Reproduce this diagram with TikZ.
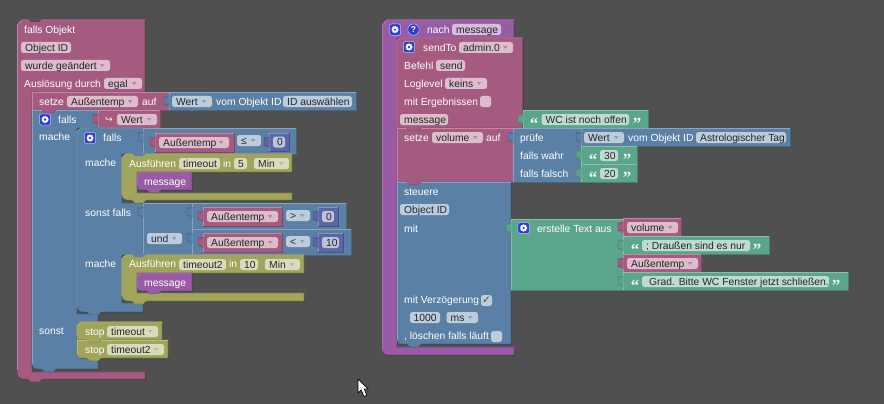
\documentclass[tikz,border=0pt]{standalone}
\usepackage{fontspec}
\setmainfont{Liberation Sans}
\newfontfamily\djv{DejaVu Sans}
\newfontfamily\qf{Liberation Serif}
\usetikzlibrary{shadows}
\definecolor{bgc}{HTML}{505050}
\definecolor{cM}{HTML}{A55B80}
\definecolor{cB}{HTML}{5B80A5}
\definecolor{cO}{HTML}{A0A55B}
\definecolor{cG}{HTML}{5BA58C}
\definecolor{cP}{HTML}{995BA5}
\definecolor{cN}{HTML}{5B67A5}
\definecolor{iconb}{HTML}{2E3FD0}
\newcounter{nn}
\tikzset{
  x=1pt,y=-1pt,
  blk/.style={fill=#1,draw=#1!78!black,line width=.6pt,general shadow={shadow xshift=.8pt,shadow yshift=-1.2pt,fill=black,opacity=.28}},
  hi/.style={draw=#1!72!white,line width=.6pt},
  lbl/.style={anchor=base west,inner sep=0pt,text=white,font=\fontsize{10.3}{12}\selectfont},
  ftx/.style={anchor=base west,inner sep=0pt,text=black!85,font=\fontsize{10.3}{12}\selectfont},
  fld/.style={fill=#1!40!white,rounded corners=2.5pt},
  ddt/.style={fill=#1!75!white},
  qm/.style={inner sep=0pt,text=white!92!#1,font=\qf\bfseries\fontsize{17}{17}\selectfont},
}
\newcommand\tx[3]{\stepcounter{nn}\node[lbl] (t\arabic{nn}) at (#1,#2+3.7) {#3};}
\newcommand\fl[5]{\fill[fld=#1] (#2,#4) rectangle (#3,#4+11);\stepcounter{nn}\node[ftx] (t\arabic{nn}) at (#2+4,#4+9.2) {#5};}
\newcommand\dd[5]{\fl{#1}{#2}{#3}{#4}{#5}\fill[ddt=#1] (#3-10,#4+4.2)--(#3-5.6,#4+4.2)--(#3-7.8,#4+7)--cycle;}
\newcommand\rb[5]{\draw[blk=#1] (#2,#3) rectangle (#4,#5);\draw[hi=#1] (#2,#5)--(#2,#3)--(#4,#3);}
\newcommand\tabb[3]{\draw[fill=#1,draw=#1!78!black,line width=.5pt] (#2+.5,#3+4)--(#2-2,#3+4)--(#2-2,#3+5.5)--(#2-5,#3+4.5)--(#2-5,#3+13)--(#2-2,#3+12)--(#2-2,#3+14)--(#2+.5,#3+14);}
\newcommand\vb[5]{\rb{#1}{#2}{#3}{#4}{#5}\tabb{#1}{#2}{#3}}
\newcommand\notch[3]{\draw[fill=#1,draw=#1!78!black,line width=.4pt] (#2+10,#3)--(#2+13,#3+2.8)--(#2+21,#3+2.8)--(#2+24,#3);\fill[#1] (#2+9,#3-.8) rectangle (#2+25,#3+.3);}
\newcommand\gear[2]{\fill[fill=iconb,rounded corners=2.5pt,draw=white!70!iconb,line width=.5pt] (#1-5.7,#2-5.7) rectangle (#1+5.7,#2+5.7);
  \draw[white,line width=1.2pt,dash pattern=on 1.2pt off .7pt] (#1,#2) circle (3pt);\fill[white] (#1,#2) circle (3pt);\fill[iconb] (#1,#2) circle (1.3pt);}
\newcommand\qo[3]{\stepcounter{nn}\node[qm=#1] (t\arabic{nn}) at (#2,#3+9.5) {“};}
\newcommand\qc[3]{\stepcounter{nn}\node[qm=#1] (t\arabic{nn}) at (#2,#3+9.5) {”};}
\newcommand\msg[2]{\draw[blk=cP] (#2,#1+18) [rounded corners=3.5pt] -- (137,#1+18) -- (137,#1) [sharp corners] -- (#2,#1) -- cycle;\draw[hi=cP] (137,#1+14)--(137,#1+3)--(140,#1)--(#2,#1);\notch{cP}{137}{#1+18}\tx{144}{#1+9.7}{message}}
\begin{document}
\begin{tikzpicture}
\useasboundingbox (0,0) rectangle (884,404);
\fill[bgc] (0,0) rectangle (884,404);
% ---------- root
\draw[blk=cM] (145,379) [rounded corners=5pt] -- (17.5,379) -- (17.5,20) [sharp corners] -- (145,20) -- (145,92) -- (32,92) -- (32,372) -- (145,372) -- cycle;
\draw[hi=cM] (17.5,370)--(17.5,25)--(22,20)--(145,20);
\fill[bgc] (28,19.4)--(31,22)--(39,22)--(42,19.4)--cycle;
\notch{cM}{18}{379}
\tx{24}{29.7}{falls Objekt}
\fl{cM}{21}{71}{42}{Object ID}
\dd{cM}{21}{110}{60}{wurde geändert}
\tx{24}{83.7}{Auslösung durch}
\dd{cM}{104}{142}{78}{egal}
% ---------- setze Aussentemp
\rb{cM}{32}{92}{169}{110}
\tx{39}{101.5}{setze}
\dd{cM}{67}{138}{96}{Außentemp}
\tx{142}{101.5}{auf}
\vb{cB}{169}{92}{356}{110}
\dd{cB}{172}{212}{96}{Wert}
\tx{216}{101.5}{vom Objekt ID}
\fl{cB}{283}{352}{96}{ID auswählen}
% ---------- outer falls
\draw[blk=cB] (98,110)--(98,128)--(77,128)--(77,314)--(98,314)--(98,369) [rounded corners=5pt] -- (32,369) -- (32,110) [sharp corners] -- cycle;
\draw[hi=cB] (32,364)--(32,110)--(98,110);
\notch{cM}{32}{110}
\gear{45}{119.5}
\tx{58}{119.5}{falls}
\tx{39}{137}{mache}
\tx{39}{330.7}{sonst}
\vb{cM}{98}{110}{160}{128}
\stepcounter{nn}\node[lbl,font=\djv\fontsize{9}{11}\selectfont] (t\arabic{nn}) at (105,122.5) {↪};
\dd{cM}{117}{157}{114}{Wert}
% ---------- inner falls
\draw[blk=cB] (143,128)--(143,154)--(122,154)--(122,203)--(143,203)--(143,255)--(122,255)--(122,303)--(143,303)--(143,312) [rounded corners=5pt] -- (77,312) -- (77,128) [sharp corners] -- cycle;
\draw[hi=cB] (77,307)--(77,132)--(81,128)--(143,128);
\fill[cB] (87,127.3)--(90,130)--(98,130)--(101,127.3)--cycle;
\gear{90}{138}
\tx{103}{138}{falls}
\tx{85}{163}{mache}
\tx{85}{212.7}{sonst falls}
\tx{85}{263.7}{mache}
% compare 1
\vb{cB}{143}{128}{296}{154}
\vb{cM}{155}{133}{234}{152}
\dd{cM}{159}{229}{137}{Außentemp}
\dd{cB}{237}{261}{135}{≤}
\vb{cN}{269}{133}{289}{151}
\fl{cN}{273}{285}{136.5}{0}
% Ausfuehren 1
\draw[blk=cO] (292,154)--(292,172)--(137,172)--(137,193)--(292,193)--(292,200) [rounded corners=5pt] -- (122,200) -- (122,154) [sharp corners] -- cycle;
\draw[hi=cO] (122,195)--(122,158)--(126,154)--(292,154);
\notch{cO}{122}{200}
\fill[cB] (132,153.4)--(135,156)--(143,156)--(146,153.4)--cycle;
\tx{129}{163.5}{Ausführen}
\fl{cO}{179}{220}{158}{timeout}
\tx{223}{163.5}{in}
\fl{cO}{234}{247}{158}{5}
\dd{cO}{254}{289}{158}{Min}
\msg{172}{192}
% und
\vb{cB}{143}{203}{192}{255}
\dd{cB}{147}{182}{233}{und}
\vb{cB}{192}{203}{346}{229}
\vb{cM}{203}{207}{282}{226}
\dd{cM}{207}{278}{211}{Außentemp}
\dd{cB}{286}{310}{210}{>}
\vb{cN}{318}{207}{338}{226}
\fl{cN}{322}{334}{211}{0}
\vb{cB}{192}{229}{351}{255}
\vb{cM}{203}{233}{282}{252}
\dd{cM}{207}{278}{237}{Außentemp}
\dd{cB}{286}{310}{236}{<}
\vb{cN}{318}{233}{343}{252}
\fl{cN}{322}{339}{237}{10}
% Ausfuehren 2
\draw[blk=cO] (304,255)--(304,273)--(137,273)--(137,293)--(304,293)--(304,301) [rounded corners=5pt] -- (122,301) -- (122,255) [sharp corners] -- cycle;
\draw[hi=cO] (122,296)--(122,259)--(126,255)--(304,255);
\notch{cO}{122}{301}
\fill[cB] (132,254.4)--(135,257)--(143,257)--(146,254.4)--cycle;
\tx{129}{264}{Ausführen}
\fl{cO}{179}{226}{259}{timeout2}
\tx{229}{264}{in}
\fl{cO}{240}{258}{259}{10}
\dd{cO}{265}{300}{259}{Min}
\msg{273}{192}
\notch{cB}{77}{312}
\notch{cB}{32}{369}
% stops
\draw[blk=cO] (162,322)--(162,340)--(77,340) [rounded corners=4pt] -- (77,322) [sharp corners] -- cycle;
\draw[hi=cO] (77,336)--(77,326)--(81,322)--(162,322);
\tx{85}{332}{stop}
\dd{cO}{107}{158}{326}{timeout}
\draw[blk=cO] (168,340)--(168,358) [rounded corners=4pt] -- (77,358) -- (77,340) [sharp corners] -- cycle;
\draw[hi=cO] (77,354)--(77,340)--(168,340);
\notch{cO}{77}{340}
\notch{cO}{77}{358}
\tx{85}{350}{stop}
\dd{cO}{107}{164}{344}{timeout2}
% ---------- function block
\draw[blk=cP] (514,355) [rounded corners=5pt] -- (382.3,355) -- (382.3,20) [sharp corners] -- (514,20) -- (514,38) -- (397,38) -- (397,347) -- (514,347) -- cycle;
\draw[hi=cP] (382.3,350)--(382.3,25)--(387,20)--(514,20);
\gear{395}{29.6}
\fill[iconb,draw=white!70!iconb,line width=.5pt] (413.5,29.6) circle (5.7pt);
\stepcounter{nn}\node[anchor=center,inner sep=0pt,text=white,font=\bfseries\fontsize{8.5}{10}\selectfont] (t\arabic{nn}) at (413.5,29.6) {?};
\tx{427}{29.6}{nach}
\fl{cP}{452}{501}{24}{message}
% sendTo
\draw[blk=cM] (522.7,38)--(522.7,128) -- (397,128) [rounded corners=3pt] -- (397,38) [sharp corners] -- cycle;
\draw[hi=cM] (397,128)--(397,41)--(400,38)--(522.7,38);
\gear{409}{47}
\tx{423}{47.5}{sendTo}
\dd{cM}{459}{513}{42}{admin.0}
\tx{404}{65.5}{Befehl}
\fl{cM}{436}{465}{60}{send}
\tx{404}{84}{Loglevel}
\dd{cM}{445}{487}{78}{keins}
\tx{404}{102}{mit Ergebnissen}
\fill[fld=cM] (480,96) rectangle (491,107);
\fl{cM}{400}{448}{114}{message}
\vb{cG}{523}{110}{648}{128}
\qo{cG}{534}{114}
\fl{cG}{541.5}{629}{114}{WC ist noch offen}
\qc{cG}{637}{114}
% setze volume
\rb{cM}{397}{128}{513}{182}
\notch{cM}{397}{128}
\fill[cM] (405,127.3) rectangle (423,128.3);
\tx{404}{138}{setze}
\dd{cM}{432}{483}{132}{volume}
\tx{486}{138}{auf}
\vb{cB}{513}{128}{581}{182}
\tx{520}{138}{prüfe}
\tx{520}{156}{falls wahr}
\tx{520}{174}{falls falsch}
\vb{cB}{581}{128}{790}{146}
\dd{cB}{584}{624}{132}{Wert}
\tx{628}{138}{vom Objekt ID}
\fl{cB}{696}{786}{132}{Astrologischer Tag}
\vb{cG}{581}{146}{637}{164}
\qo{cG}{593}{150}
\fl{cG}{600}{618}{150}{30}
\qc{cG}{627}{150}
\vb{cG}{581}{164}{637}{182}
\qo{cG}{593}{168}
\fl{cG}{600}{618}{168}{20}
\qc{cG}{627}{168}
% steuere
\draw[blk=cB] (511,182)--(511,344) [rounded corners=4pt] -- (397,344) -- (397,182) [sharp corners] -- cycle;
\draw[hi=cB] (397,340)--(397,182)--(511,182);
\notch{cM}{397}{182}
\notch{cB}{397}{344}
\tx{404}{192}{steuere}
\fl{cB}{400}{449}{204}{Object ID}
\tx{404}{228.5}{mit}
\tx{404}{300}{mit Verzögerung}
\fill[fld=cB] (481,295) rectangle (492,306);
\stepcounter{nn}\node[anchor=center,inner sep=0pt,text=black!70,font=\djv\fontsize{10.5}{11}\selectfont] (t\arabic{nn}) at (486.5,300.5) {✓};
\fl{cB}{410}{440}{312}{\hspace{-.5pt}1000}
\dd{cB}{446.5}{478}{312}{ms}
\tx{404}{336}{, löschen falls läuft}
\fill[fld=cB] (491,331) rectangle (502,342);
% text join
\vb{cG}{511}{219}{623}{290}
\gear{523.6}{228}
\tx{537}{228.5}{erstelle Text aus}
\vb{cM}{623}{218}{681}{236}
\dd{cM}{627}{678}{222}{volume}
\vb{cG}{623}{236}{769}{254}
\qo{cG}{635}{240}
\fl{cG}{642}{750}{240}{; Draußen sind es nur}
\qc{cG}{757}{240}
\vb{cM}{623}{254}{701}{272}
\dd{cM}{627}{698}{258}{Außentemp}
\vb{cG}{623}{272}{848}{290}
\qo{cG}{635}{276}
\fl{cG}{642}{829}{276}{\hspace{3pt}Grad. Bitte WC Fenster jetzt schließen.}
\qc{cG}{836}{276}
% cursor
\draw[fill=white,draw=black,line width=.7pt,line join=round] (358,379)--(358,393)--(361.2,390)--(364,396.5)--(366.8,395.3)--(364.2,389)--(368.3,389)--cycle;
\end{tikzpicture}
\end{document}
